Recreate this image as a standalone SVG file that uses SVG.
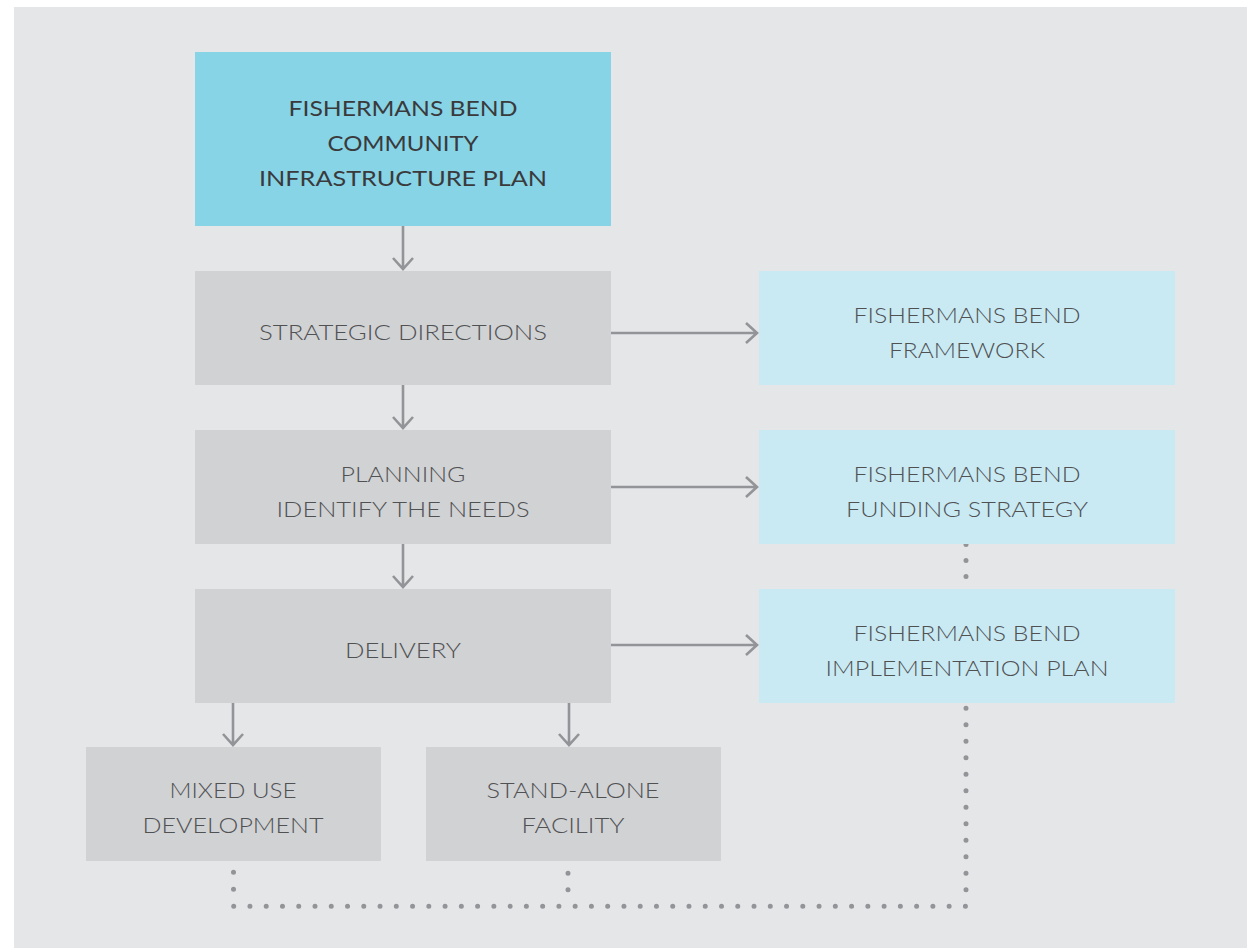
<svg xmlns="http://www.w3.org/2000/svg" width="1254" height="948" viewBox="0 0 1254 948">
<style>
.bg{fill:#e5e6e8}
.g{fill:#d1d2d4}
.lb{fill:#c9eaf3}
.db{fill:#87d4e7}
.t{font-family:"Lato","Open Sans","Liberation Sans",sans-serif;font-size:22px;font-weight:300;fill:#505153;text-anchor:middle}
.tb{font-family:"Lato","Open Sans","Liberation Sans",sans-serif;font-size:22px;font-weight:400;fill:#3a3a3c;text-anchor:middle}
.ar{fill:none;stroke:#929497;stroke-width:2.6}
.dot{fill:none;stroke:#929497;stroke-width:5;stroke-linecap:round}
</style>
<rect class="bg" x="14" y="7" width="1233" height="941"/>
<g id="connectors">
<path class="ar" d="M403 226V269M393 258L403 269L413 258"/>
<path class="ar" d="M403 385V428M393 417L403 428L413 417"/>
<path class="ar" d="M403 544V587M393 576L403 587L413 576"/>
<path class="ar" d="M233 703V745M223 734L233 745L243 734"/>
<path class="ar" d="M569 703V745M559 734L569 745L579 734"/>
<path class="ar" d="M611 333H757M746 323L757 333L746 343"/>
<path class="ar" d="M611 487H757M746 477L757 487L746 497"/>
<path class="ar" d="M611 645H757M746 635L757 645L746 655"/>
<path class="dot" stroke-dasharray="0 16" d="M966 544.5V577"/>
<path class="dot" stroke-dasharray="0 16.5" d="M966 708.3V906.3"/>
<path class="dot" stroke-dasharray="0 16.26" d="M233.7 906.3H965.5"/>
<path class="dot" stroke-dasharray="0 17" d="M233.5 872.3V906.3"/>
<path class="dot" stroke-dasharray="0 16.5" d="M568 873.3V906.3"/>
</g>
<g id="cip">
<rect class="db" x="195" y="52" width="416" height="174"/>
<text class="tb" x="403" y="116" textLength="229" lengthAdjust="spacingAndGlyphs">FISHERMANS BEND</text>
<text class="tb" x="403" y="151" textLength="151" lengthAdjust="spacingAndGlyphs">COMMUNITY</text>
<text class="tb" x="403" y="186" textLength="288" lengthAdjust="spacingAndGlyphs">INFRASTRUCTURE PLAN</text>
</g>
<g id="strategic">
<rect class="g" x="195" y="271" width="416" height="114"/>
<text class="t" x="403" y="340" textLength="288" lengthAdjust="spacingAndGlyphs">STRATEGIC DIRECTIONS</text>
</g>
<g id="planning">
<rect class="g" x="195" y="430" width="416" height="114"/>
<text class="t" x="403" y="482" textLength="125" lengthAdjust="spacingAndGlyphs">PLANNING</text>
<text class="t" x="403" y="517" textLength="253" lengthAdjust="spacingAndGlyphs">IDENTIFY THE NEEDS</text>
</g>
<g id="delivery">
<rect class="g" x="195" y="589" width="416" height="114"/>
<text class="t" x="403" y="658" textLength="116" lengthAdjust="spacingAndGlyphs">DELIVERY</text>
</g>
<g id="framework">
<rect class="lb" x="759" y="271" width="416" height="114"/>
<text class="t" x="967" y="323" textLength="227" lengthAdjust="spacingAndGlyphs">FISHERMANS BEND</text>
<text class="t" x="967" y="358" textLength="156" lengthAdjust="spacingAndGlyphs">FRAMEWORK</text>
</g>
<g id="funding">
<rect class="lb" x="759" y="430" width="416" height="114"/>
<text class="t" x="967" y="482" textLength="227" lengthAdjust="spacingAndGlyphs">FISHERMANS BEND</text>
<text class="t" x="967" y="517" textLength="242" lengthAdjust="spacingAndGlyphs">FUNDING STRATEGY</text>
</g>
<g id="implementation">
<rect class="lb" x="759" y="589" width="416" height="114"/>
<text class="t" x="967" y="641" textLength="227" lengthAdjust="spacingAndGlyphs">FISHERMANS BEND</text>
<text class="t" x="967" y="676" textLength="283" lengthAdjust="spacingAndGlyphs">IMPLEMENTATION PLAN</text>
</g>
<g id="mixed">
<rect class="g" x="86" y="747" width="295" height="114"/>
<text class="t" x="233" y="798" textLength="127" lengthAdjust="spacingAndGlyphs">MIXED USE</text>
<text class="t" x="233" y="833" textLength="181" lengthAdjust="spacingAndGlyphs">DEVELOPMENT</text>
</g>
<g id="standalone">
<rect class="g" x="426" y="747" width="295" height="114"/>
<text class="t" x="573" y="798" textLength="173" lengthAdjust="spacingAndGlyphs">STAND-ALONE</text>
<text class="t" x="573" y="833" textLength="103" lengthAdjust="spacingAndGlyphs">FACILITY</text>
</g>
</svg>
